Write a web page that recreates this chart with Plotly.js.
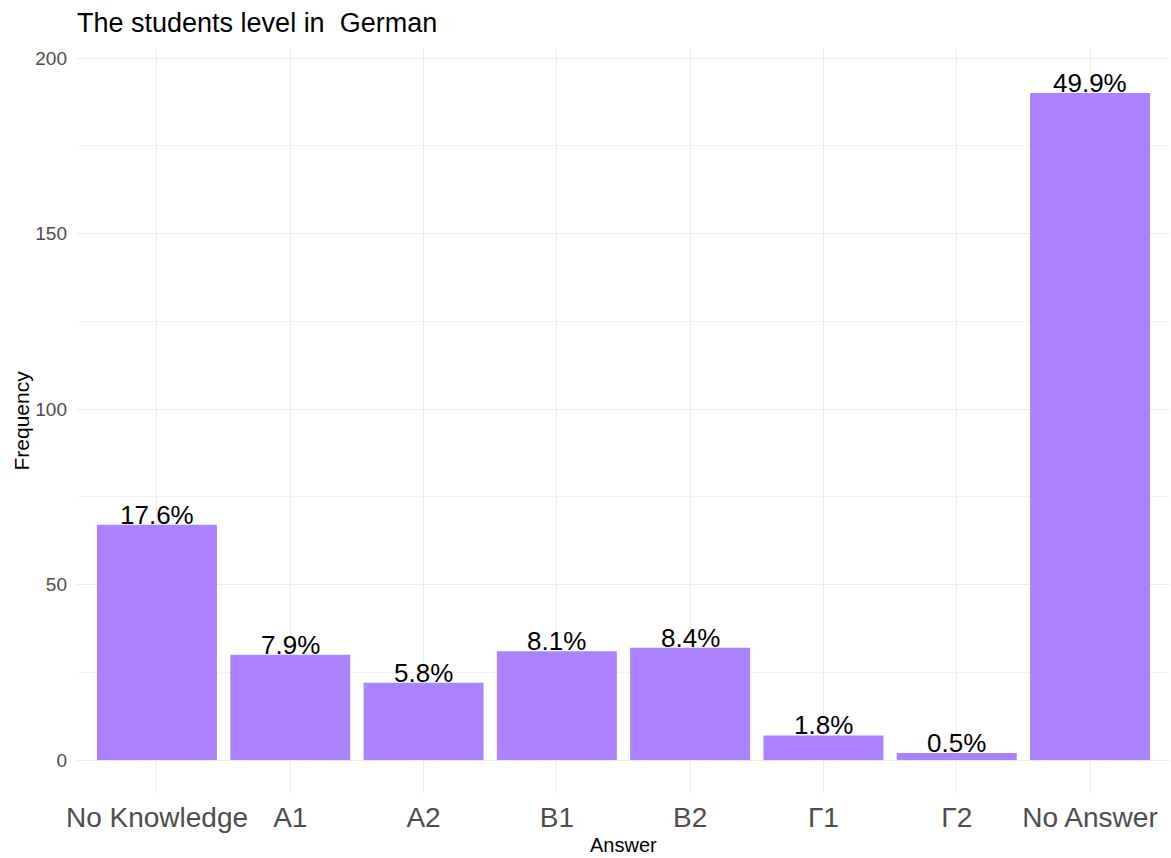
<!DOCTYPE html>
<html>
<head>
<meta charset="utf-8">
<script src="https://cdn.plot.ly/plotly-3.0.1.min.js"></script>
<style>html,body{margin:0;padding:0;background:#fff;}#chart{width:1171px;height:858px;}</style>
</head>
<body>
<div id="chart"></div>
<script>
const categories = ["No Knowledge", "A1", "A2", "B1", "B2", "Γ1", "Γ2", "No Answer"];
const frequencies = [67, 30, 22, 31, 32, 7, 2, 190];
const percentLabels = ["17.6%", "7.9%", "5.8%", "8.1%", "8.4%", "1.8%", "0.5%", "49.9%"];
const yTickValues = [0, 50, 100, 150, 200];

const FONT = "Liberation Sans, Arial, sans-serif";

const trace = {
  type: "bar",
  x: categories,
  y: frequencies,
  width: 0.9,
  marker: {color: "#AB82FF", line: {width: 0}},
  hoverinfo: "x+y"
};

const labelAnnotations = categories.map((c, i) => ({
  x: c, y: frequencies[i], xref: "x", yref: "y",
  text: percentLabels[i], showarrow: false,
  xanchor: "center", yanchor: "bottom", yshift: -7,
  font: {family: FONT, size: 26, color: "#000000"}
}));

const layout = {
  width: 1171, height: 858,
  margin: {l: 77, r: 1, t: 48, b: 65},
  paper_bgcolor: "#ffffff", plot_bgcolor: "#ffffff",
  showlegend: false,
  bargap: 0.1,
  title: {text: "The students level in  German", x: 77/1171, xanchor: "left", xref: "container",
          y: 1 - 23/858, yanchor: "middle", yref: "container",
          font: {family: FONT, size: 27, color: "#000000"}},
  xaxis: {
    type: "category", range: [-0.6, 7.6],
    showgrid: true, gridcolor: "#EBEBEB", gridwidth: 1,
    zeroline: false, showline: false, ticks: "",
    tickfont: {family: FONT, size: 28, color: "#4D4D4D"},
    ticklabelstandoff: 5
  },
  yaxis: {
    range: [-9.4, 202.85], tickvals: yTickValues,
    showgrid: true, gridcolor: "#EBEBEB", gridwidth: 1,
    minor: {dtick: 25, tick0: 0, showgrid: true, gridcolor: "#F3F3F3", gridwidth: 1, ticks: ""},
    zeroline: false, showline: false, ticks: "",
    tickfont: {family: FONT, size: 19, color: "#4D4D4D"},
    ticklabelstandoff: 9
  },
  annotations: labelAnnotations.concat([
    {text: "Answer", xref: "paper", yref: "paper", x: 0.5, y: -(845 - 793) / 745, xanchor: "center", yanchor: "middle",
     borderpad: 0, showarrow: false, font: {family: FONT, size: 20, color: "#000000"}},
    {text: "Frequency", xref: "paper", yref: "paper", x: -(77 - 21) / 1093, y: 0.5, xanchor: "center", yanchor: "middle",
     textangle: -90, showarrow: false, font: {family: FONT, size: 21, color: "#000000"}}
  ])
};

Plotly.newPlot("chart", [trace], layout, {displayModeBar: false, staticPlot: true});
</script>
</body>
</html>
